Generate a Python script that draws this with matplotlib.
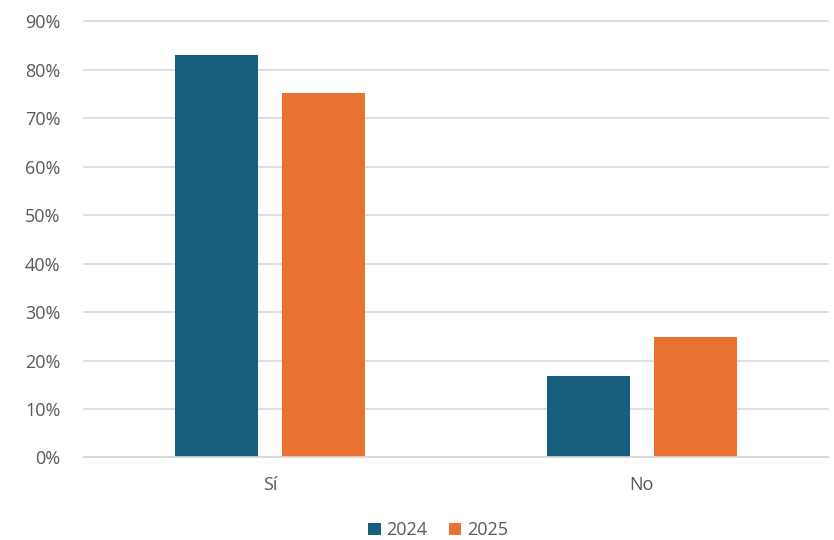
import matplotlib.pyplot as plt
import numpy as np
from matplotlib.ticker import PercentFormatter

categories = ['Sí', 'No']
years = ['2024', '2025']
values_2024 = [0.831, 0.169]
values_2025 = [0.752, 0.248]
colors = ['#175E7F', '#E97132']

plt.rcParams['font.family'] = ['Open Sans', 'DejaVu Sans']
text_color = '#595959'

fig = plt.figure(figsize=(8.34, 5.40), dpi=100)
ax = fig.add_axes([0.1007, 0.1528, 0.892, 0.8074])

x = np.arange(len(categories))
width = 0.223
offset = 0.144
ax.bar(x - offset, values_2024, width, color=colors[0], label=years[0])
ax.bar(x + offset, values_2025, width, color=colors[1], label=years[1])

ax.set_xlim(-0.5, 1.5)
ax.set_ylim(0, 0.9)
ax.set_yticks(np.arange(0, 0.91, 0.1))
ax.yaxis.set_major_formatter(PercentFormatter(1.0, decimals=0))
ax.set_xticks(x)
ax.set_xticklabels(categories)

ax.grid(axis='y', color='#D9D9D9', linewidth=1.2)
for gl in ax.get_ygridlines():
    gl.set_clip_on(False)
ax.set_axisbelow(True)
for side in ['top', 'right', 'left']:
    ax.spines[side].set_visible(False)
ax.spines['bottom'].set_color('#D9D9D9')
ax.spines['bottom'].set_linewidth(1.2)
ax.tick_params(axis='both', length=0, labelsize=13, colors=text_color)
ax.tick_params(axis='y', pad=17)
ax.tick_params(axis='x', pad=13)

fig.legend(loc='center', bbox_to_anchor=(0.525, 0.018), ncol=2, frameon=False,
           fontsize=13, labelcolor=text_color, handlelength=0.7, handleheight=0.7,
           handletextpad=0.3, columnspacing=1.2)

fig.savefig('out.png', dpi=100)
